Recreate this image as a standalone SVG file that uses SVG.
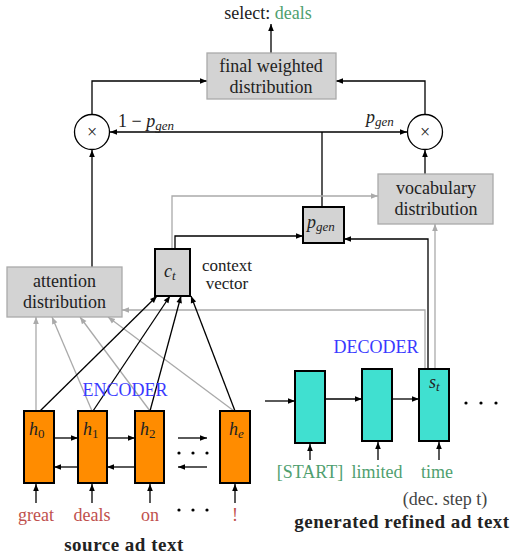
<svg xmlns="http://www.w3.org/2000/svg" width="517" height="559" viewBox="0 0 517 559" font-family="'Liberation Serif', 'DejaVu Serif', serif">
<defs>
<marker id="ab" viewBox="0 0 10 10" refX="10" refY="5" markerWidth="8" markerHeight="7" orient="auto" markerUnits="userSpaceOnUse"><path d="M0,1 L10,5 L0,9 z" fill="#000"/></marker>
<marker id="ag" viewBox="0 0 10 10" refX="10" refY="5" markerWidth="8" markerHeight="7" orient="auto" markerUnits="userSpaceOnUse"><path d="M0,1 L10,5 L0,9 z" fill="#aaa"/></marker>
</defs>
<style>
text{font-family:'Liberation Serif','DejaVu Serif',serif;fill:#222}
.t{font-size:18px;text-anchor:middle}
.m{font-style:italic}
.sub{font-size:13px;font-style:italic}
.dist{fill:#d3d3d3;stroke:#aaa;stroke-width:1.3}
.gate{fill:#d3d3d3;stroke:#000;stroke-width:2}
.enc{fill:#ff8c00;stroke:#000;stroke-width:2}
.dec{fill:#40e0d0;stroke:#000;stroke-width:2}
.k{fill:none;stroke:#000;stroke-width:1.3;marker-end:url(#ab)}
.kn{fill:none;stroke:#000;stroke-width:1.3}
.g{fill:none;stroke:#aaa;stroke-width:1.3;marker-end:url(#ag)}
.red{fill:#c0504d}
.grn{fill:#4f9f6f}
.blue{fill:#3a3aff}
.b{font-weight:bold;font-size:19px;letter-spacing:0.5px}
</style>
<g id="connectors">
<path class="k" d="M271,53 V24"/>
<path class="k" d="M92,114 V81 H207"/>
<path class="k" d="M425,114 V81 H336"/>
<path class="kn" d="M322,207 V132"/>
<path class="k" d="M322,132 H110"/>
<path class="k" d="M322,132 H407"/>
<path class="k" d="M425,174 V150"/>
<path class="k" d="M92,267 V150"/>
<path class="g" d="M172,249 V196 H378"/>
<path class="k" d="M175,249 V236 H303"/>
<path class="g" d="M425,369 V310 H122"/>
<path class="k" d="M428,369 V239 H344"/>
<path class="g" d="M435,369 V224"/>
<path class="g" d="M36,411 V317"/>
<path class="g" d="M92,411 L52,317"/>
<path class="g" d="M150,411 L80,317"/>
<path class="g" d="M234,411 L108,317"/>
<path class="k" d="M40,411 L157,296"/>
<path class="k" d="M93,411 L170,296"/>
<path class="k" d="M150,411 L181,296"/>
<path class="k" d="M235,411 L191,296"/>
<path class="k" d="M54,438 H78"/>
<path class="k" d="M107,438 H135"/>
<path class="k" d="M178,438 H207"/>
<path class="k" d="M78,467 H54"/>
<path class="k" d="M135,467 H107"/>
<path class="k" d="M207,467 H178"/>
<path class="k" d="M36,503 V484"/>
<path class="k" d="M92,503 V484"/>
<path class="k" d="M150,503 V484"/>
<path class="k" d="M235,503 V484"/>
<path class="k" d="M265,401 H295"/>
<path class="k" d="M325,399 H362"/>
<path class="k" d="M392,399 H419"/>
<path class="k" d="M310,460 V444"/>
<path class="k" d="M378,460 V442"/>
<path class="k" d="M439,460 V442"/>
</g>
<g id="select"><text class="t" x="268" y="19" font-size="17">select: <tspan class="grn">deals</tspan></text></g>
<g id="final">
<rect class="dist" x="207" y="53" width="129" height="46"/>
<text class="t" x="271" y="72">final weighted</text>
<text class="t" x="271" y="93">distribution</text>
</g>
<g id="mulL">
<circle cx="92" cy="132" r="17.5" fill="#fff" stroke="#000" stroke-width="1.3"/>
<text x="92" y="138" font-size="18" text-anchor="middle" fill="#444">×</text>
</g>
<g id="mulR">
<circle cx="425" cy="132" r="17.5" fill="#fff" stroke="#000" stroke-width="1.3"/>
<text x="425" y="138" font-size="18" text-anchor="middle" fill="#444">×</text>
</g>
<g id="labels">
<text x="118" y="127" font-size="18">1 − <tspan class="m">p</tspan><tspan class="sub" dy="3">gen</tspan></text>
<text x="366" y="123" font-size="18"><tspan class="m">p</tspan><tspan class="sub" dy="3">gen</tspan></text>
</g>
<g id="pgen">
<rect class="gate" x="303" y="207" width="41" height="36"/>
<text x="307" y="228" font-size="18"><tspan class="m">p</tspan><tspan class="sub" dy="3">gen</tspan></text>
</g>
<g id="vocab">
<rect class="dist" x="378" y="174" width="115" height="50"/>
<text class="t" x="436" y="194">vocabulary</text>
<text class="t" x="436" y="215">distribution</text>
</g>
<g id="ct">
<rect class="gate" x="155" y="249" width="35" height="47"/>
<text x="164" y="277" font-size="18"><tspan class="m">c</tspan><tspan class="sub" dy="3">t</tspan></text>
<text class="t" x="227" y="271" style="font-size:17px">context</text>
<text class="t" x="227" y="289" style="font-size:17px">vector</text>
</g>
<g id="attn">
<rect class="dist" x="7" y="267" width="115" height="50"/>
<text class="t" x="64.5" y="287">attention</text>
<text class="t" x="64.5" y="308">distribution</text>
</g>
<g id="encoder">
<text class="t blue" x="125" y="396">ENCODER</text>
<rect class="enc" x="24" y="411" width="30" height="72"/>
<rect class="enc" x="78" y="411" width="29" height="72"/>
<rect class="enc" x="135" y="411" width="29" height="72"/>
<rect class="enc" x="220" y="411" width="30" height="72"/>
<text x="29" y="435" font-size="18"><tspan class="m">h</tspan><tspan font-size="13" dy="3">0</tspan></text>
<text x="83" y="435" font-size="18"><tspan class="m">h</tspan><tspan font-size="13" dy="3">1</tspan></text>
<text x="140" y="435" font-size="18"><tspan class="m">h</tspan><tspan font-size="13" dy="3">2</tspan></text>
<text x="229" y="435" font-size="18"><tspan class="m">h</tspan><tspan class="sub" dy="3">e</tspan></text>
<circle cx="179" cy="453" r="1.6" fill="#000"/><circle cx="193" cy="453" r="1.6" fill="#000"/><circle cx="207" cy="453" r="1.6" fill="#000"/>
<text class="t red" x="36" y="521">great</text>
<text class="t red" x="92" y="521">deals</text>
<text class="t red" x="150" y="521">on</text>
<text class="t red" x="235" y="521">!</text>
<circle cx="179" cy="510" r="1.6" fill="#000"/><circle cx="193" cy="510" r="1.6" fill="#000"/><circle cx="207" cy="510" r="1.6" fill="#000"/>
<text class="t b" x="124" y="551">source ad text</text>
</g>
<g id="decoder">
<text class="t blue" x="376" y="353">DECODER</text>
<rect class="dec" x="295" y="371" width="30" height="72"/>
<rect class="dec" x="362" y="369" width="30" height="72"/>
<rect class="dec" x="419" y="369" width="30" height="72"/>
<text x="429" y="388" font-size="18"><tspan class="m">s</tspan><tspan class="sub" dy="3">t</tspan></text>
<circle cx="466" cy="403" r="1.6" fill="#000"/><circle cx="481" cy="403" r="1.6" fill="#000"/><circle cx="496" cy="403" r="1.6" fill="#000"/>
<text class="t grn" x="310" y="478">[START]</text>
<text class="t grn" x="377" y="478">limited</text>
<text class="t grn" x="437" y="478">time</text>
<text class="t" x="445" y="505" style="fill:#444">(dec. step t)</text>
<text class="t b" x="402" y="528">generated refined ad text</text>
</g>
</svg>
